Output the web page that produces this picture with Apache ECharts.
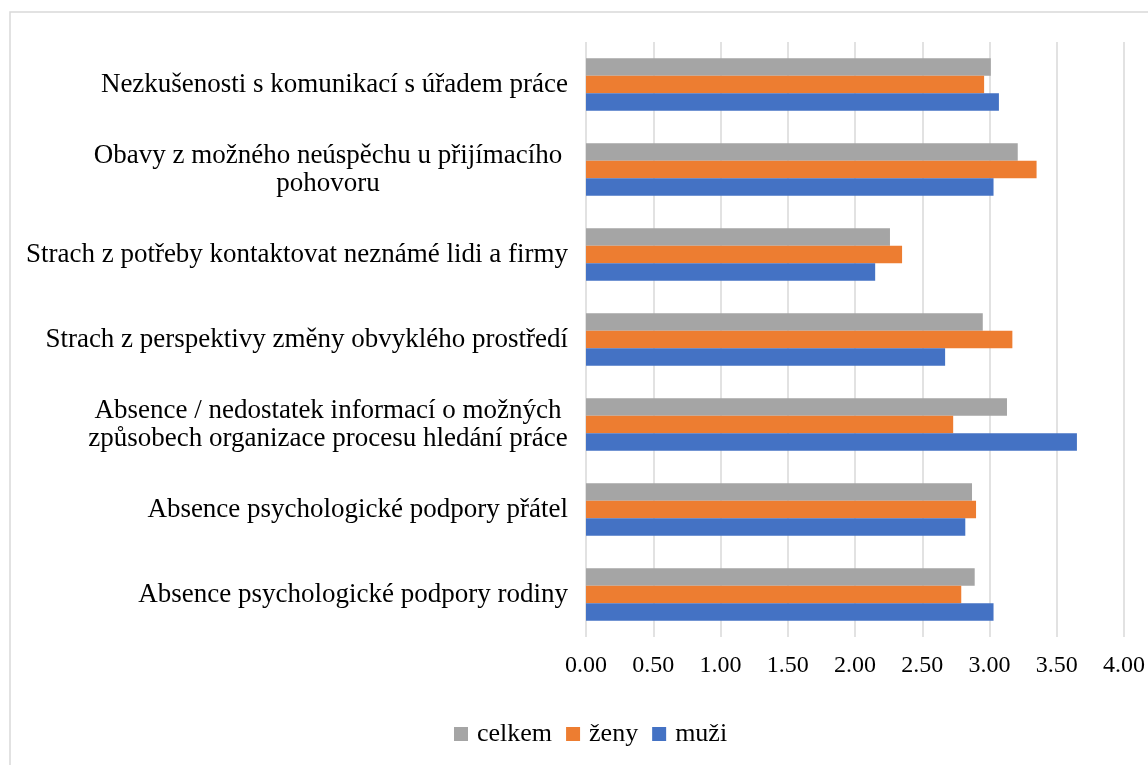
<!DOCTYPE html>
<html>
<head>
<meta charset="utf-8">
<script src="https://cdn.jsdelivr.net/npm/echarts@6/dist/echarts.min.js"></script>
<style>
  html, body { margin: 0; padding: 0; background: #fff; }
  #chart { width: 1148px; height: 765px; }
</style>
</head>
<body>
<div id="chart"></div>
<script>
//--------------------- Data ---------------------------//
const categories = [
  'Nezkušenosti s komunikací s úřadem práce',
  'Obavy z možného neúspěchu u přijímacího\npohovoru',
  'Strach z potřeby kontaktovat neznámé lidi a firmy',
  'Strach z perspektivy změny obvyklého prostředí',
  'Absence / nedostatek informací o možných\nzpůsobech organizace procesu hledání práce',
  'Absence psychologické podpory přátel',
  'Absence psychologické podpory rodiny'
];
const celkem = [3.01, 3.21, 2.26, 2.95, 3.13, 2.87, 2.89];
const zeny = [2.96, 3.35, 2.35, 3.17, 2.73, 2.90, 2.79];
const muzi = [3.07, 3.03, 2.15, 2.67, 3.65, 2.82, 3.03];
const legendNames = ['celkem', 'ženy', 'muži'];
const xTicks = [0, 0.5, 1, 1.5, 2, 2.5, 3, 3.5, 4];

//--------------------- Setup ---------------------------//
const fontFamily = '"Liberation Serif", "DejaVu Serif", serif';
const labelSize = 27;
const tickSize = 24;
const legendSize = 26;
const colors = { celkem: '#A5A5A5', zeny: '#ED7D31', muzi: '#4472C4' };

// measure text so multi-line labels can be centred inside a right-aligned block
const measureCtx = document.createElement('canvas').getContext('2d');
measureCtx.font = `${labelSize}px ${fontFamily}`;
function textWidth(s) { return Math.ceil(measureCtx.measureText(s).width); }

// widest line among the multi-line labels
const multiWidth = Math.max(...categories.filter(c => c.includes('\n'))
  .map(c => Math.max(...c.split('\n').map(textWidth))));

function labelFormatter(value) {
  const lines = value.split('\n');
  if (lines.length === 1) return value;
  return lines.map(l => `{c|${l}}`).join('\n');
}

function barSeries(name, data, color) {
  return {
    name: name,
    type: 'bar',
    data: data,
    barGap: '0%',
    barCategoryGap: '38%',
    itemStyle: { color: color },
    emphasis: { disabled: true }
  };
}

const chart = echarts.init(document.getElementById('chart'));

const option = {
  animation: false,
  backgroundColor: '#fff',
  textStyle: { fontFamily: fontFamily },
  graphic: [{
    type: 'rect',
    shape: { x: 10, y: 12, width: 1160, height: 780 },
    style: { fill: 'none', stroke: '#d9d9d9', lineWidth: 1.5 },
    silent: true
  }],
  grid: { left: 586, right: 22, top: 42, bottom: 128 },
  legend: {
    data: legendNames,
    bottom: 13,
    left: 449,
    itemWidth: 14,
    itemHeight: 14,
    itemGap: 14,
    icon: 'rect',
    textStyle: { fontFamily: fontFamily, fontSize: legendSize, color: '#000', padding: [0, 0, 0, 4] }
  },
  xAxis: {
    type: 'value',
    min: 0,
    max: 4,
    interval: 0.5,
    axisLine: { show: false },
    axisTick: { show: false },
    splitLine: { show: true, lineStyle: { color: '#d9d9d9', width: 1.5 } },
    axisLabel: {
      margin: 17,
      fontFamily: fontFamily,
      fontSize: tickSize,
      color: '#000',
      formatter: v => xTicks.includes(v) ? v.toFixed(2) : ''
    }
  },
  yAxis: {
    type: 'category',
    inverse: true,
    data: categories,
    axisLine: { show: false },
    axisTick: { show: false },
    axisLabel: {
      margin: 18,
      fontFamily: fontFamily,
      fontSize: labelSize,
      color: '#000',
      lineHeight: 28,
      align: 'right',
      formatter: labelFormatter,
      rich: {
        c: { width: multiWidth, align: 'center', fontFamily: fontFamily, fontSize: labelSize, lineHeight: 28, color: '#000' }
      }
    }
  },
  series: [
    barSeries('celkem', celkem, colors.celkem),
    barSeries('ženy', zeny, colors.zeny),
    barSeries('muži', muzi, colors.muzi)
  ]
};
chart.setOption(option);
</script>
</body>
</html>
